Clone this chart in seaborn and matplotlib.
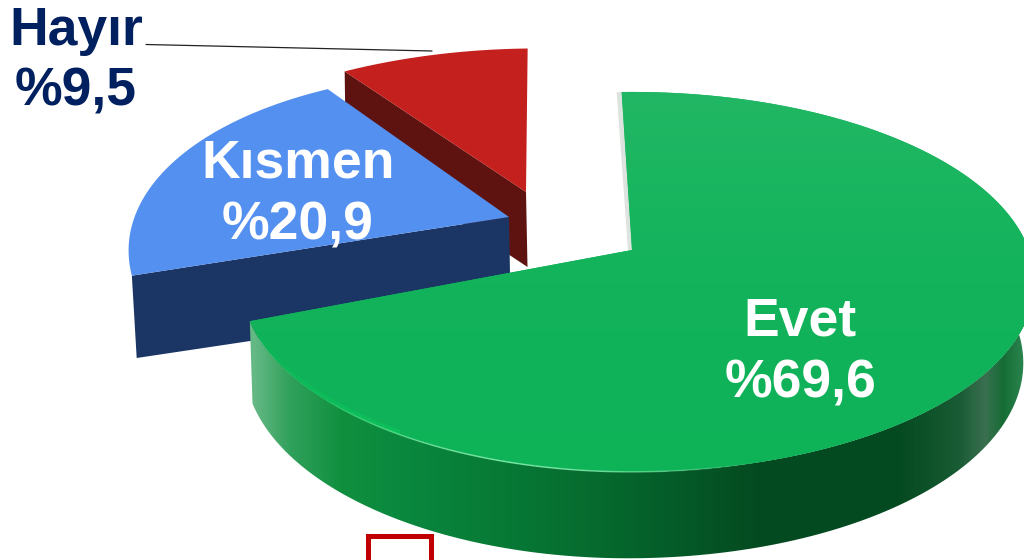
"""Exploded 3D-look pie: Evet / Kismen / Hayir shares."""
import numpy as np
import matplotlib
matplotlib.use('Agg')
import matplotlib.pyplot as plt
from matplotlib.collections import LineCollection
from matplotlib.patches import Polygon
import seaborn as sns

labels = ['Evet', 'Kısmen', 'Hayır']
values = [69.6, 20.9, 9.5]
top_colors = ['#12B35B', '#5490F0', '#C4201E']
side_colors = ['#0A7533', '#1B3565', '#5E1310']
start_angle = 91.8

# per slice projection: apex x/y, radius x/y, perspective, tilt, skew, left squeeze
proj = {
	'Evet': dict(ax=632, ay=250, r=397, ry=184.6, k=0.168, tilt=0.0, skew=0.0, left=0.97),
	'Kısmen': dict(ax=509, ay=217, r=369, ry=180, k=0.243, tilt=0.034, skew=0.0, left=1.0),
	'Hayır': dict(ax=526, ay=192, r=388, ry=178, k=0.24, tilt=0.0, skew=-0.08, left=1.0),
}
depth = 80
apex_depth = {'Kısmen': 85, 'Hayır': 75}
rim_stops = ['#63B883', '#2FA05A', '#10903F', '#0A883E', '#077A36', '#066A2E', '#045626',
	'#044A20', '#044A20', '#1A5C35', '#3A7050', '#166C35', '#2C8650']
rim_x = [254, 290, 340, 400, 500, 600, 700, 760, 900, 960, 985, 1003, 1024]

sns.set_theme(style='white')
plt.rcParams['font.family'] = ['Liberation Sans', 'DejaVu Sans']


def project(p, theta):
	x, y = np.cos(theta), np.sin(theta)
	d = 1 / (1 + p['k'] * y)
	dx = p['r'] * x * d
	dx = np.where(dx < 0, dx * p['left'], dx)
	dy = -p['ry'] * y * d
	return p['ax'] + dx + p['skew'] * dy, p['ay'] + dy + p['tilt'] * dx


def drop(sx, sy, theta):
	# bottom ring of the slab: a bit lower in front, pulled towards the middle
	h = depth * (1 - 0.08 * np.sin(theta))
	return sx + (400 - sx) * 0.018, sy + h


def slice_angles(i):
	sweep = np.cumsum([0] + values) / sum(values) * 2 * np.pi
	a0 = np.deg2rad(start_angle) - sweep[i]
	a1 = np.deg2rad(start_angle) - sweep[i + 1]
	return np.linspace(a0, a1, 400)


fig = plt.figure(figsize=(10.24, 5.6), dpi=100)
ax = fig.add_axes([0, 0, 1, 1])

# back to front: red, blue, green
for i in [2, 1, 0]:
	p = proj[labels[i]]
	z = (2 - i) * 2 + 1
	th = slice_angles(i)
	sx, sy = project(p, th)
	bx, by = drop(sx, sy, th)
	ax_, ay_ = p['ax'], p['ay']

	if i == 0:
		# notch shadow on the left of the back edge
		ax.add_patch(Polygon([(sx[0] - 5, sy[0]), (sx[0], sy[0]), (ax_, ay_), (ax_ - 4, ay_)],
			fc='#DDE3DF', ec='none', zorder=z - 0.5))
		# rim: one polygon for the visible front, filled with a horizontal gradient
		vis = (np.sin(th) < 0.25) & ~((np.sin(th) > 0.15) & (np.cos(th) > 0))
		rim = Polygon(np.column_stack([np.r_[sx[vis], bx[vis][::-1]], np.r_[sy[vis], by[vis][::-1]]]),
			fc='none', ec='none', zorder=z)
		ax.add_patch(rim)
		cmap = sns.blend_palette(rim_stops, n_colors=256, as_cmap=True)
		xs = np.arange(240, 1040)
		grad = np.interp(xs, rim_x, np.linspace(0, 1, len(rim_x)))[None, :]
		im = ax.imshow(grad, cmap=cmap, vmin=0, vmax=1, extent=(240, 1040, 570, 240), aspect='auto', zorder=z)
		im.set_clip_path(rim)
	else:
		# cut face towards the viewer, the end shared with the previous slice
		ax.add_patch(Polygon([(sx[0], sy[0]), (ax_, ay_), (ax_ + 1.5, ay_ + apex_depth[labels[i]]),
			(bx[0], by[0])], fc=side_colors[i], ec='none', zorder=z))

	poly = Polygon(np.column_stack([np.r_[ax_, sx], np.r_[ay_, sy]]), fc=top_colors[i], ec='none', zorder=z + 0.5)
	ax.add_patch(poly)

	if i == 0:
		# soft vertical shading on the top face
		shade = sns.blend_palette(['#22B764', '#12B35B', '#0EB257'], n_colors=64, as_cmap=True)
		im = ax.imshow(np.linspace(0, 1, 256)[:, None], cmap=shade, extent=(200, 1040, 480, 85), aspect='auto', zorder=z + 0.6)
		im.set_clip_path(poly)
		# bright band at the left corner, thin highlight along the front edge
		front = np.sin(th) < 0
		keep = (sx > 252) & (sx < 400) & front
		pts = np.column_stack([sx[keep], sy[keep] - 2])
		segs = np.stack([pts[:-1], pts[1:]], axis=1)
		alpha = np.linspace(0.7, 0, len(segs))
		ax.add_collection(LineCollection(segs, colors=[(0.05, 0.78, 0.36, a) for a in alpha], linewidths=3.5, zorder=z + 0.7))
		keep = (sx > 320) & (sx < 760) & front
		pts = np.column_stack([sx[keep], sy[keep]])
		segs = np.stack([pts[:-1], pts[1:]], axis=1)
		alpha = np.sin(np.linspace(0, np.pi, len(segs))) * 0.8
		ax.add_collection(LineCollection(segs, colors=[(0.55, 0.95, 0.7, a) for a in alpha], linewidths=1.1, zorder=z + 0.8))

ax.set_xlim(0, 1024)
ax.set_ylim(560, 0)
ax.axis('off')

# leader line and the clipped box under the pie
ax.plot([146, 432], [44.5, 51], color='#222222', lw=0.9, zorder=8)
ax.plot([367.5, 367.5, 430.5, 430.5], [575, 535.5, 535.5, 575], color='#C00000', lw=3.6,
	solid_joinstyle='miter', zorder=0.5)

label_pos = {'Evet': (800, 335, 397, 'white'), 'Kısmen': (298, 177, 239, 'white'), 'Hayır': (76, 45, 106, '#00205F')}
for name, v in zip(labels, values):
	x, y1, y2, c = label_pos[name]
	ax.text(x, y1, name, ha='center', va='baseline', fontsize=38.5, fontweight='bold', color=c, zorder=9)
	ax.text(x, y2, '%' + f'{v:.1f}'.replace('.', ','), ha='center', va='baseline', fontsize=38.5,
		fontweight='bold', color=c, zorder=9)

fig.savefig('out.png', dpi=100)
